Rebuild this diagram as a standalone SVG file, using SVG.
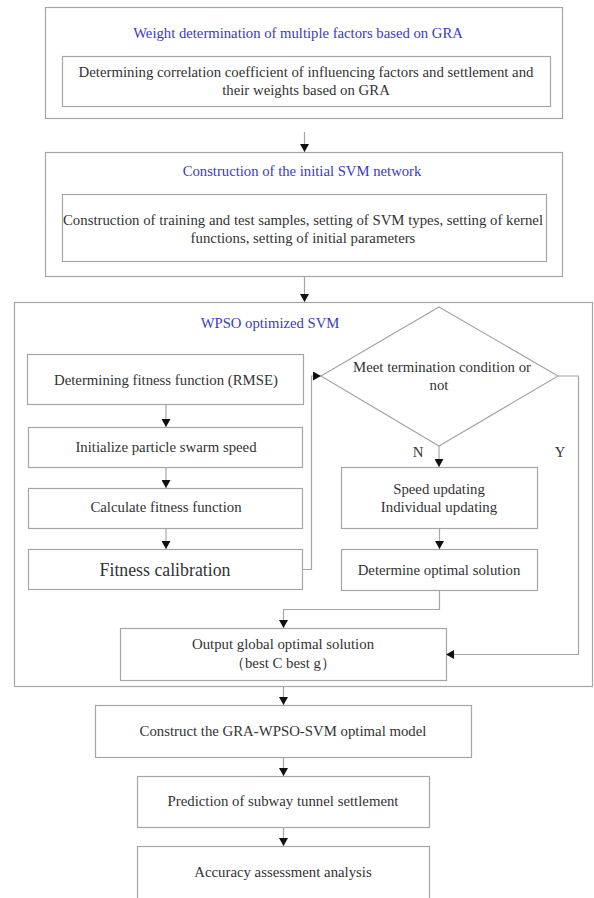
<svg xmlns="http://www.w3.org/2000/svg" width="594" height="898" viewBox="0 0 594 898">
<style>
.box{fill:#fff;stroke:#a6a6a6;stroke-width:1.2}
.t{font-family:"Liberation Serif","Times New Roman",serif;font-size:14.8px;fill:#333;text-anchor:middle}
.h{font-family:"Liberation Serif","Times New Roman",serif;font-size:14.7px;fill:#3a3ac8;text-anchor:middle}
.big{font-size:17.8px}
.c{fill:none;stroke:#a6a6a6;stroke-width:1.2}
</style>
<defs>
<marker id="ah" markerUnits="userSpaceOnUse" markerWidth="8" markerHeight="9" refX="8" refY="4.5" orient="auto">
<path d="M0,0 L8,4.5 L0,9 z" fill="#111"/>
</marker>
</defs>
<rect width="594" height="898" fill="#fff"/>
<g id="gra">
<rect class="box" x="45.5" y="7.5" width="517" height="111"/>
<text class="h" x="298" y="38">Weight determination of multiple factors based on GRA</text>
<rect class="box" x="62.5" y="56.5" width="488" height="50"/>
<text class="t" x="306" y="77">Determining correlation coefficient of influencing factors and settlement and</text>
<text class="t" x="306" y="95">their weights based on GRA</text>
</g>
<g id="svm">
<rect class="box" x="45.5" y="152.5" width="517" height="124"/>
<text class="h" x="302" y="176">Construction of the initial SVM network</text>
<rect class="box" x="62.5" y="194.5" width="484" height="67"/>
<text class="t" x="303" y="225">Construction of training and test samples, setting of SVM types, setting of kernel</text>
<text class="t" x="303" y="243">functions, setting of initial parameters</text>
</g>
<g id="wpso">
<rect class="box" x="14.5" y="302.5" width="578" height="384"/>
<text class="h" x="270" y="328">WPSO optimized SVM</text>
</g>
<g id="fitfunc">
<rect class="box" x="27.5" y="354.5" width="276" height="50"/>
<text class="t" x="166" y="385">Determining fitness function (RMSE)</text>
</g>
<g id="init">
<rect class="box" x="28.5" y="427.5" width="274" height="40"/>
<text class="t" x="166" y="452">Initialize particle swarm speed</text>
</g>
<g id="calc">
<rect class="box" x="28.5" y="488.5" width="274" height="40"/>
<text class="t" x="166" y="512">Calculate fitness function</text>
</g>
<g id="calib">
<rect class="box" x="28.5" y="549.5" width="274" height="40"/>
<text class="t big" x="165" y="576">Fitness calibration</text>
</g>
<g id="decision">
<polygon class="box" points="439,307 558,376 439,446 321,376"/>
<text class="t" x="442" y="372">Meet termination condition or</text>
<text class="t" x="439" y="390">not</text>
</g>
<g id="update">
<rect class="box" x="341.5" y="467.5" width="196" height="61"/>
<text class="t" x="439" y="494">Speed updating</text>
<text class="t" x="439" y="512">Individual updating</text>
</g>
<g id="optimal">
<rect class="box" x="341.5" y="549.5" width="196" height="41"/>
<text class="t" x="439" y="575">Determine optimal solution</text>
</g>
<g id="output">
<rect class="box" x="120.5" y="628.5" width="326" height="52"/>
<text class="t" x="283" y="649">Output global optimal solution</text>
<text class="t" x="283" y="668">（best C best g）</text>
</g>
<g id="construct">
<rect class="box" x="95.5" y="705.5" width="376" height="52"/>
<text class="t" x="283" y="736">Construct the GRA-WPSO-SVM optimal model</text>
</g>
<g id="predict">
<rect class="box" x="137.5" y="776.5" width="292" height="51"/>
<text class="t" x="283" y="806">Prediction of subway tunnel settlement</text>
</g>
<g id="accuracy">
<rect class="box" x="137.5" y="846.5" width="292" height="60"/>
<text class="t" x="283" y="877">Accuracy assessment analysis</text>
</g>
<g id="connectors">
<path class="c" d="M304.5,132 V152" marker-end="url(#ah)"/>
<path class="c" d="M304.5,277 V302" marker-end="url(#ah)"/>
<path class="c" d="M166,404 V427" marker-end="url(#ah)"/>
<path class="c" d="M166,467 V488" marker-end="url(#ah)"/>
<path class="c" d="M166,528 V549" marker-end="url(#ah)"/>
<path class="c" d="M302,569.5 H311.5 V376 H321" marker-end="url(#ah)"/>
<path class="c" d="M439,446 V467" marker-end="url(#ah)"/>
<path class="c" d="M439.5,528 V549" marker-end="url(#ah)"/>
<path class="c" d="M439.5,590 V609.5 H283.5 V628" marker-end="url(#ah)"/>
<path class="c" d="M558,376 H578.5 V654.5 H446" marker-end="url(#ah)"/>
<path class="c" d="M283.5,686 V705" marker-end="url(#ah)"/>
<path class="c" d="M283.5,757 V776" marker-end="url(#ah)"/>
<path class="c" d="M283.5,827 V846" marker-end="url(#ah)"/>
<text class="t" x="418" y="457">N</text>
<text class="t" x="560" y="457">Y</text>
</g>
</svg>
